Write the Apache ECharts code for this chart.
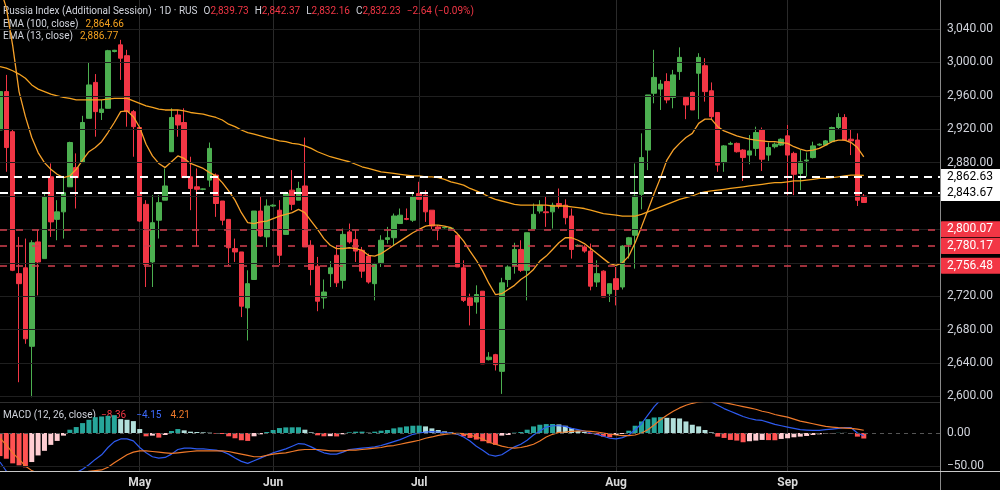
<!DOCTYPE html>
<html><head><meta charset="utf-8">
<script src="https://cdn.jsdelivr.net/npm/echarts@6/dist/echarts.min.js"></script>
<style>html,body{margin:0;padding:0;background:#000;}#chart{width:1000px;height:490px;}</style>
</head><body><div id="chart"></div>
<script>
// ---------- DATA ----------
const opens = [
2919,2965,2917,2747,2754,2660,2785,2765,2863,2812,
2821,2851,2874,2880,2933,2976,2940,2945,3013,3021,
3008,2941,2922,2830,2761,2811,2835,2893,2937,2928,
2863,2851,2848,2859,2865,2834,2812,2777,2773,2706,
2740,2822,2791,2828,2823,2794,2847,2835,2852,2781,
2756,2718,2747,2769,2739,2797,2788,2775,2768,2735,
2760,2788,2790,2807,2813,2811,2843,2841,2823,2803,
2802,2801,2793,2754,2718,2713,2726,2644,2650,2630,
2740,2757,2776,2751,2800,2822,2821,2821,2831,2829,
2816,2780,2779,2774,2737,2750,2723,2741,2731,2782,
2793,2842,2895,2963,2968,2977,2958,2989,2958,2964,
2987,2996,2966,2940,2880,2902,2903,2895,2889,2897,
2919,2889,2899,2901,2912,2891,2867,2882,2886,2901,
2901,2905,2922,2934,2908,2907,2839.73];
const closes = [
2965,2898,2751,2735,2669,2784,2761,2839,2809,2821,
2844,2904,2862,2928,2973,2941,2944,3014,3014.5,3005,
2941,2923,2810,2758,2808,2832,2852,2934,2925,2862,
2849,2848,2848.5,2897,2831,2811,2778,2773,2708,2735,
2822,2792,2828,2829,2769,2843,2830,2849,2779,2752,
2714,2725,2754,2736,2794,2785,2774,2750,2737,2758,
2787,2790,2816,2817,2812,2839,2836,2821,2804,2800,
2802.5,2801.5,2755,2715,2709,2722,2639,2647,2638,2736,
2755,2776,2751,2796,2818,2829,2820,2829,2828,2814,
2776,2781,2774,2732,2747,2719,2735,2728,2780,2790,
2840,2886,2961,2982,2974,2955,2985,3006,2949,2943,
3006,2965,2935,2877,2900,2903,2893,2886,2894,2916,
2884,2898,2902,2908,2889,2866,2881,2883,2900,2902,
2906,2922,2934,2907,2906,2834.87,2832.23];
const highs = [
2968,2985,2919,2791,2789,2787,2799,2843,2879,2835,
2864,2905,2891,2936,3000,2986,2955,3015,3015,3027,
3015,2943,2922,2835,2841,2841,2873,2945,2943,2945,
2887,2873,2849,2904,2867,2834,2812,2789,2773,2751,
2822,2839,2836,2830,2835,2845,2871,2857,2910,2787,
2767,2740,2762,2781,2801,2807,2799,2779,2771,2760,
2793,2803,2819,2825,2825,2845,2857,2847,2823,2805,
2803,2802,2793,2763,2723,2733,2726,2653,2651,2742,
2757,2784,2787,2796,2831,2835,2839,2832,2849,2836,
2825,2782,2781,2783,2763,2751,2735,2755,2781,2791,
2879,2915,2961,3015,2979,2987,2991,3018,2959,2965,
3011,3005,2976,2940,2901,2905,2904,2896,2913,2923,
2922,2904,2904,2909,2925,2893,2895,2892,2905,2903,
2907,2923,2939,2938,2919,2915,2842.37];
const lows = [
2915,2869,2750,2617,2663,2599,2721,2765,2791,2787,
2789,2851,2825,2880,2933,2911,2931,2945,3012,2979,
2923,2887,2809,2731,2731,2789,2835,2893,2911,2862,
2823,2780,2847,2851,2815,2805,2757,2761,2695,2667,
2740,2791,2779,2827,2757,2794,2823,2835,2779,2733,
2702,2705,2731,2731,2729,2783,2761,2742,2735,2715,
2755,2783,2781,2807,2811,2809,2836,2809,2800,2787,
2801,2800,2755,2713,2685,2699,2639,2643,2631,2603,
2731,2747,2749,2715,2800,2819,2803,2801,2825,2806,
2765,2779,2772,2727,2731,2719,2713,2709,2728,2765,
2753,2824,2871,2951,2943,2951,2945,2979,2932,2943,
2932,2953,2931,2869,2869,2901,2892,2858,2878,2888,
2870,2882,2897,2900,2841,2841,2847,2863,2885,2900,
2900,2904,2920,2906,2889,2828,2832.16];
const ema100 = [
2995,2993,2990,2986,2981,2973,2968,2965,2962,2960,
2958,2957,2955,2955,2955,2955,2955,2956,2957,2957,
2957,2954,2951,2948,2946,2944,2943,2943,2943,2942,
2940,2939,2938,2936,2934,2931,2926,2923,2919,2916,
2914,2912,2910,2908,2906,2905,2903,2902,2900,2897,
2893,2890,2887,2885,2883,2881,2878,2875,2873,2871,
2869,2868,2867,2866,2865,2864,2864,2863,2863,2862,
2860,2857,2855,2853,2849,2846,2843,2839,2836,2834,
2832,2830,2829,2829,2829,2829,2829,2828,2828,2828,
2827,2826,2825,2823,2821,2819,2818,2817,2816,2816,
2816,2818,2821,2824,2827,2830,2833,2836,2838,2840,
2843,2845,2846,2847,2848,2849,2850,2851,2852,2853,
2854,2855,2856,2856,2857,2858,2858,2859,2860,2861,
2861,2862,2863,2864,2865,2865,2864.66];
const ema13 = [
3090,3065,3020,2965,2935,2910,2892,2880,2872,2866,
2862,2864,2872,2883,2893,2898,2905,2916,2928,2941,
2942,2935,2922,2902,2888,2879,2874,2881,2888,2885,
2879,2876,2873,2868,2864,2856,2846,2835,2820,2808,
2807,2809,2810,2813,2816,2818,2820,2824,2820,2810,
2800,2789,2781,2777,2777,2778,2777,2775,2769,2768,
2771,2776,2781,2786,2791,2796,2800,2804,2805,2805,
2804,2802,2795,2786,2774,2763,2750,2735,2722,2723,
2728,2733,2740,2745,2752,2762,2768,2776,2784,2790,
2790,2787,2783,2777,2771,2765,2759,2757,2760,2768,
2784,2803,2823,2843,2862,2883,2895,2903,2910,2915,
2927,2932,2932,2923,2918,2915,2912,2910,2908,2907,
2906,2905,2905,2904,2903,2899,2896,2894,2895,2897,
2901,2905,2907,2907,2904,2898,2886.77];
const macdLine = [
-44,-58,-66,-72,-76,-77,-76,-74,-71,-69,
-67,-64,-60,-55,-48,-40,-33,-22,-13,-9,
-9,-12,-22,-30,-36,-38,-37,-32,-25,-23,
-23,-24,-24,-25,-26,-28,-32,-38,-43,-46,
-42,-38,-34,-30,-27,-24,-20,-16,-17,-21,
-26,-30,-32,-32,-29,-25,-24,-23,-22,-21,
-19,-16,-13,-10,-6,-2,0,1.5,2,1.5,
0.5,0,-2,-6,-12,-20,-26,-33,-35,-33,
-27,-21,-17,-11,-3,3,9,11,11,10,
7,5,3,0,-2,-5,-8,-9,-7,-3,
5,14,27,40,50,56,60,62,62,60,
57,52,47,42,37,33,29,25,22,20,
19,16,13,11,9,7,5,4.5,4,4,
5,6,7,8,8,0,-4.15];
const signalLine = [
-8,-18,-30,-40,-50,-57,-61,-63,-64,-64,
-63,-62,-61,-60,-58,-57,-56,-52,-45,-39,
-33,-29,-27,-27,-28,-29,-30,-31,-30,-29,
-28,-27,-27,-27,-27,-27,-28,-30,-32,-34,
-36,-36,-34,-32,-31,-30,-28,-26,-25,-25,
-25,-26,-27,-27,-27,-26,-26,-25,-24,-23,
-22,-20,-19,-17,-15,-13,-11,-8,-6,-3.5,
-2,-1,-0.5,-1,-3,-6,-9,-14,-17,-20,
-22,-23,-22,-20,-17,-12,-6,-2,1,1.5,
2.5,3,3,2.5,1.5,0,-1.5,-3,-4,-4,
-3,0,5,12,20,27,33,38,42,45,
47,48,48,47,46,44,42,40,38,36,
33,31,28,26,24,21,18,16,14,12,
10,9,8,7.5,7,6,4.21];
const histogram = [
-35,-39,-46,-49,-52,-44,-34,-27,-18,-12,
-4,5,9,15,20,24,25,26,27,21,
20,18,6,-5,-4,-7,-3,3,6,4,
2,1.5,1,0.5,-1,-1.5,-5,-8,-11,-12,
-5,-2,1.5,4.5,7.5,8.5,8.6,8.7,5,1,
-3.5,-5,-4.8,-5.2,-2,1,2,2.1,0.5,2,
3.5,4.5,7,8.5,10,11,11.2,10,7,4.5,
2.5,1,-1.5,-5,-7.5,-10,-12.5,-15.5,-18,-4,
-3,0.5,1.5,5,10,12.5,13.5,13.6,13,11,
7.5,3.5,1.5,-1.5,-3,-5.5,-6.5,-3,-1.5,3.5,
11,17.5,21,23.5,24,23,22.5,22,17.5,12.5,
10,4.5,1,-5.5,-7.5,-10.5,-11.5,-14,-12.5,-11.5,
-10.5,-10.8,-11,-9,-8,-6.5,-5.5,-4.5,-3,-2,
-1,-0.5,0.3,0.2,-0.8,-5.5,-8.36];
const monthNames = ['May','Jun','Jul','Aug','Sep'];
const monthStartBar = [22,43,66,97,124];
const priceTicks = [2600,2640,2680,2720,2760,2800,2840,2880,2920,2960,3000,3040];
const coveredTickLabels = [2760,2800,2840];
const whiteLevels = [2862.63, 2843.67];
const redLevels = [2800.07, 2780.17, 2756.48];
const macdTicks = [-50, 0];
const emptySlotsRight = 12;
const categories = Array.from({length: closes.length + emptySlotsRight}, (_, i) => 'b' + i);

// ---------- CHART ----------
const FONT = 'Roboto, "Noto Sans", sans-serif';
const UP = '#4caf50', DOWN = '#f23645';
const fmt = v => v.toLocaleString('en-US', {minimumFractionDigits: 2, maximumFractionDigits: 2});
const fmtSigned = v => (v < 0 ? '\u2212' : '') + fmt(Math.abs(v));

const candleData = opens.map((o, i) => [o, closes[i], lows[i], highs[i]]);
const histData = histogram.map((v, i) => {
  const p = i > 0 ? histogram[i - 1] : undefined;
  let c;
  if (v >= 0) c = (p === undefined || v >= p) ? '#26a69a' : '#b2dfdb';
  else c = (p === undefined || v <= p) ? '#ff5252' : '#ffcdd2';
  return {value: v, itemStyle: {color: c}};
});
const isMonthStart = (idx) => monthStartBar.indexOf(idx) >= 0;

const levelLine = (v, white) => ({
  yAxis: v,
  lineStyle: white ? {color: '#ffffff', width: 2, type: [8, 6]} : {color: '#d2404f', width: 1.6, type: [7, 9]},
  label: {
    show: true, position: 'end', distance: 0, formatter: fmt(v),
    color: white ? '#000000' : '#ffffff',
    backgroundColor: white ? '#ffffff' : '#f23645',
    borderRadius: white ? 0 : 2,
    padding: [2, 12, 1, 7], fontSize: 12, fontFamily: FONT, lineHeight: 13
  }
});

// header rows: plain text pieces laid out one after another
const HDR = 10;
const LABEL = '#d1d4dc', RED = '#f23645', ORANGE = '#f5a21f';
const mctx = document.createElement('canvas').getContext('2d');
mctx.font = HDR + 'px ' + FONT;
function textRow(segments, x0, yc) {
  let x = x0; const out = [];
  segments.forEach(([txt, color, gap]) => {
    x += gap || 0;
    out.push({type: 'text', z: 1, silent: true, x: x, y: yc,
      style: {text: txt, fill: color, fontSize: HDR, fontFamily: FONT, verticalAlign: 'middle', align: 'left'}});
    x += mctx.measureText(txt).width;
  });
  return out;
}
const headerTexts = [].concat(
  textRow([['Russia Index (Additional Session) \u00b7 1D \u00b7 RUS', LABEL],
           ['O', LABEL, 6], ['2,839.73', RED], ['H', LABEL, 6], ['2,842.37', RED],
           ['L', LABEL, 6], ['2,832.16', RED], ['C', LABEL, 6], ['2,832.23', RED],
           ['\u22122.64 (\u22120.09%)', RED, 6]], 3, 11),
  textRow([['EMA (100, close)', LABEL], ['2,864.66', ORANGE, 7]], 3, 24),
  textRow([['EMA (13, close)', LABEL], ['2,886.77', ORANGE, 7]], 3, 36),
  textRow([['MACD (12, 26, close)', LABEL], ['\u22128.36', RED, 5], ['\u22124.15', '#3d6bff', 10], ['4.21', '#f07a2a', 9]], 3, 415)
);

const option = {
  backgroundColor: '#000000',
  animation: false,
  grid: [
    {left: 0, right: 60, top: 0, height: 402},
    {left: 0, right: 60, top: 403, height: 68},
    {left: 0, right: 60, top: 0, height: 471}
  ],
  xAxis: [
    {gridIndex: 0, type: 'category', data: categories, boundaryGap: false,
     axisLine: {show: true, lineStyle: {color: '#2e2e2e'}}, axisTick: {show: false},
     axisLabel: {show: false}, splitLine: {show: false}},
    {gridIndex: 1, type: 'category', data: categories, boundaryGap: false,
     axisLine: {show: false}, axisTick: {show: false},
     axisLabel: {show: true, interval: (i) => isMonthStart(i),
       formatter: (val, i) => monthNames[monthStartBar.indexOf(i)] || '',
       color: '#d8d8d8', fontSize: 12, fontWeight: 'bold', fontFamily: FONT, margin: 6},
     splitLine: {show: false}},
    {gridIndex: 2, type: 'category', data: categories, boundaryGap: false,
     axisLine: {show: false}, axisTick: {show: false}, axisLabel: {show: false},
     splitLine: {show: true, interval: (i) => isMonthStart(i), lineStyle: {color: '#2a2a2a', width: 1}}}
  ],
  yAxis: [
    {gridIndex: 0, type: 'value', position: 'right', min: 2593.3, max: 3074.7,
     axisLine: {show: false}, axisTick: {show: false}, splitLine: {show: false},
     axisLabel: {show: true, customValues: priceTicks.filter(v => coveredTickLabels.indexOf(v) < 0),
       formatter: v => fmt(v), color: '#d1d4dc', fontSize: 12, fontFamily: FONT, margin: 7}},
    {gridIndex: 1, type: 'value', position: 'right', min: -57.58, max: 45.45,
     axisLine: {show: false}, axisTick: {show: false}, splitLine: {show: false},
     axisLabel: {show: true, customValues: macdTicks, formatter: v => fmtSigned(v),
       color: '#d1d4dc', fontSize: 12, fontFamily: FONT, margin: 7}},
    {gridIndex: 2, type: 'value', show: false, min: 0, max: 1}
  ],
  series: [
    {type: 'line', xAxisIndex: 0, yAxisIndex: 0, data: [], z: 1, silent: true,
     markLine: {silent: true, symbol: ['none', 'none'], label: {show: false},
       lineStyle: {color: '#1f1f1f', width: 1, type: 'solid'},
       data: priceTicks.map(v => ({yAxis: v}))}},
    {type: 'candlestick', xAxisIndex: 0, yAxisIndex: 0, data: candleData, barWidth: 5, z: 3,
     itemStyle: {color: UP, color0: DOWN, borderColor: UP, borderColor0: DOWN, borderWidth: 1}},
    {type: 'line', xAxisIndex: 0, yAxisIndex: 0, data: ema100, symbol: 'none', z: 4,
     lineStyle: {color: '#f5a21f', width: 1.3}},
    {type: 'line', xAxisIndex: 0, yAxisIndex: 0, data: ema13, symbol: 'none', z: 4,
     lineStyle: {color: '#f7a12a', width: 1.3}},
    {type: 'line', xAxisIndex: 0, yAxisIndex: 0, data: [], z: 5, silent: true,
     markLine: {silent: true, symbol: ['none', 'none'],
       data: whiteLevels.map(v => levelLine(v, true)).concat(redLevels.map(v => levelLine(v, false)))}},
    {type: 'line', xAxisIndex: 1, yAxisIndex: 1, data: [], z: 1, silent: true,
     markLine: {silent: true, symbol: ['none', 'none'], label: {show: false},
       data: [
         {yAxis: 0, lineStyle: {color: '#555555', width: 1, type: [4, 4]}},
         {yAxis: -50, lineStyle: {color: '#1f1f1f', width: 1, type: 'solid'}}
       ]}},
    {type: 'bar', xAxisIndex: 1, yAxisIndex: 1, data: histData, barWidth: 5, z: 2},
    {type: 'line', xAxisIndex: 1, yAxisIndex: 1, data: macdLine, symbol: 'none', z: 3,
     lineStyle: {color: '#2e5bf0', width: 1.2}},
    {type: 'line', xAxisIndex: 1, yAxisIndex: 1, data: signalLine, symbol: 'none', z: 3,
     lineStyle: {color: '#f07a2a', width: 1.2}}
  ],
  graphic: [
    {type: 'line', z: 10, silent: true, shape: {x1: 940.5, y1: 0, x2: 940.5, y2: 490}, style: {stroke: '#8a8a8a', lineWidth: 1}},
    {type: 'line', z: 10, silent: true, shape: {x1: 0, y1: 471.5, x2: 1000, y2: 471.5}, style: {stroke: '#c8c8c8', lineWidth: 1}}
  ].concat(headerTexts)
};
const chart = echarts.init(document.getElementById('chart'));
chart.setOption(option);
</script></body></html>
